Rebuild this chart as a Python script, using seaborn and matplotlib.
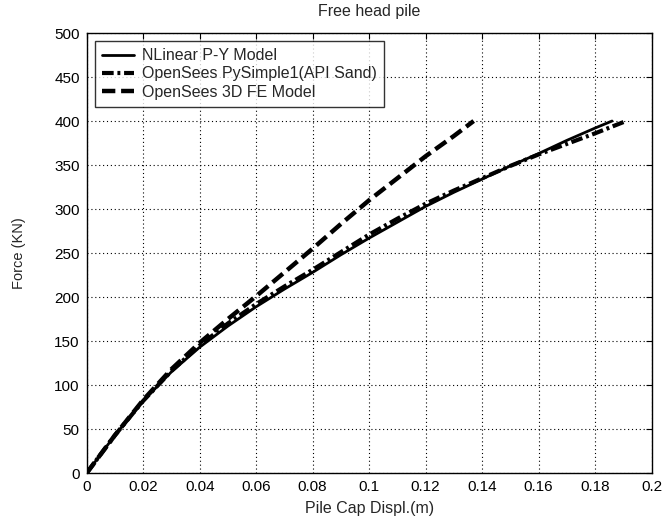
import matplotlib
matplotlib.use("Agg")
import matplotlib.pyplot as plt
import seaborn as sns
import pandas as pd

# Data
py_x = [0, 0.01, 0.02, 0.03, 0.04, 0.05, 0.06, 0.07, 0.08, 0.09, 0.10, 0.11, 0.12,
        0.13, 0.14, 0.15, 0.16, 0.17, 0.18, 0.186]
py_y = [0, 43, 82, 115, 143, 167, 189, 209, 228, 248, 267, 285, 303,
        319, 334, 349, 363, 378, 392, 400]

pys_x = [0, 0.01, 0.02, 0.03, 0.04, 0.05, 0.06, 0.07, 0.08, 0.09, 0.10, 0.11, 0.12,
         0.13, 0.14, 0.15, 0.16, 0.17, 0.18, 0.191]
pys_y = [0, 43, 82, 116, 145, 170, 192, 212, 231, 251, 271, 289, 306,
         321, 335, 349, 362, 374, 386, 400]

fe_x = [0, 0.01, 0.02, 0.03, 0.04, 0.05, 0.06, 0.07, 0.08, 0.09, 0.10, 0.11, 0.12,
        0.13, 0.137]
fe_y = [0, 43, 83, 118, 148, 175, 201, 228, 255, 283, 310, 335, 360,
        383, 400]

labels = ["NLinear P-Y Model", "OpenSees PySimple1(API Sand)", "OpenSees 3D FE Model"]
x_ticks = [0, 0.02, 0.04, 0.06, 0.08, 0.1, 0.12, 0.14, 0.16, 0.18, 0.2]
x_ticklabels = ["0", "0.02", "0.04", "0.06", "0.08", "0.1", "0.12", "0.14", "0.16", "0.18", "0.2"]
y_ticks = list(range(0, 501, 50))

sns.set_style("white")
plt.rcParams['font.family'] = ['Liberation Sans', 'DejaVu Sans']

fig = plt.figure(figsize=(6.63, 5.19), dpi=100)
ax = fig.add_axes([0.1308, 0.0886, 0.852, 0.8478])

df1 = pd.DataFrame({"x": py_x, "y": py_y})
df2 = pd.DataFrame({"x": pys_x, "y": pys_y})
df3 = pd.DataFrame({"x": fe_x, "y": fe_y})

sns.lineplot(data=df1, x="x", y="y", ax=ax, color="black", lw=2.0,
             linestyle="-", sort=False, estimator=None, label=labels[0])
sns.lineplot(data=df2, x="x", y="y", ax=ax, color="black", lw=3.0,
             linestyle=(0, (2.8, 0.9, 0.7, 0.9)), sort=False, estimator=None, label=labels[1])
sns.lineplot(data=df3, x="x", y="y", ax=ax, color="black", lw=3.2,
             linestyle=(0, (3.0, 1.3)), sort=False, estimator=None, label=labels[2])

ax.set_xlim(0, 0.2)
ax.set_ylim(0, 500)
ax.set_xticks(x_ticks)
ax.set_xticklabels(x_ticklabels)
ax.set_yticks(y_ticks)
ax.tick_params(direction="in", top=True, right=True, length=4, width=0.8,
               labelsize=11, colors="black", pad=5)
ax.grid(True, color="black", linestyle=(0, (1, 2.5)), linewidth=0.8)
for s in ax.spines.values():
    s.set_color("black")
    s.set_linewidth(1.0)

ax.set_title("Free head pile", fontsize=11.5, pad=12)
ax.set_xlabel("Pile Cap Displ.(m)", fontsize=11.5, labelpad=5)
ax.set_ylabel("Force (KN)", fontsize=10.5, labelpad=20)

leg = ax.legend(loc="upper left", fontsize=11.5, handlelength=2.0, frameon=True,
                fancybox=False, edgecolor="black", borderaxespad=0.5,
                labelspacing=0.2, borderpad=0.45, handletextpad=0.5)
leg.get_frame().set_linewidth(1.0)

fig.savefig("out.png", dpi=100)
